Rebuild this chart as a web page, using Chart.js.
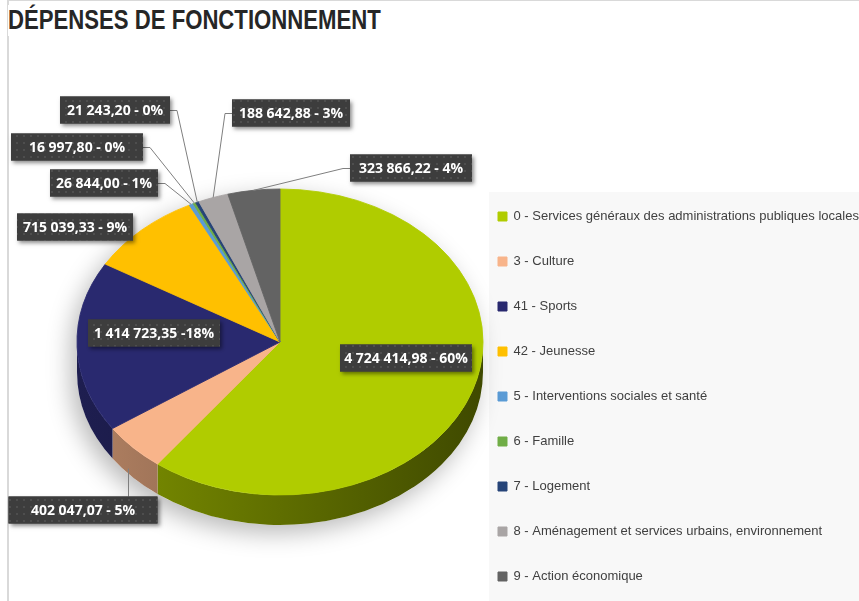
<!DOCTYPE html>
<html lang="fr">
<head>
<meta charset="utf-8">
<title>Dépenses de fonctionnement</title>
<script src="https://cdn.jsdelivr.net/npm/chart.js@4.4.1/dist/chart.umd.min.js"></script>
<style>
    html, body { margin: 0; padding: 0; background: #fff; }
    #wrap { position: relative; width: 859px; height: 601px; overflow: hidden; }
    #frame { position: absolute; left: 7px; top: 0; right: -2px; bottom: -2px; border-left: 2px solid #d9d9d9; border-top: 1px solid #d9d9d9; }
    #title { position: absolute; left: 8px; top: 5px; padding-right: 6px; font: bold 27px/31px "Liberation Sans", Arial, sans-serif; color: #262626; background: #fff; white-space: nowrap; transform: scaleX(0.82); transform-origin: 0 0; }
    #legendBg { position: absolute; left: 489px; top: 192px; width: 370px; height: 409px; background: #f8f8f8; }
    #chart { position: absolute; left: 0; top: 0; }
</style>
</head>
<body>
<div id="wrap">
    <div id="frame"></div>
    <div id="legendBg"></div>
    <div id="title">DÉPENSES DE FONCTIONNEMENT</div>
    <canvas id="chart" width="859" height="601"></canvas>
</div>
<script>
const categories = [
    "0 - Services généraux des administrations publiques locales",
    "3 - Culture",
    "41 - Sports",
    "42 - Jeunesse",
    "5 - Interventions sociales et santé",
    "6 - Famille",
    "7 - Logement",
    "8 - Aménagement et services urbains, environnement",
    "9 - Action économique"
];
const amounts = [4724414.98, 402047.07, 1414723.35, 715039.33, 26844.00, 16997.80, 21243.20, 188642.88, 323866.22];
const percentLabels = ["- 60%", "- 5%", "-18%", "- 9%", "- 1%", "- 0%", "- 0%", "- 3%", "- 4%"];
const sliceColors = ["#b0cc00", "#f8b48a", "#29296f", "#ffc000", "#5b9bd5", "#70ad47", "#264478", "#a9a5a5", "#636363"];

// mise en page des étiquettes (centre, largeur, trait de rappel)
const labelBoxes = [
    { x: 406, y: 358, w: 132, leader: false },
    { x: 83, y: 510, w: 149, leader: true },
    { x: 154, y: 333, w: 132, leader: false },
    { x: 75, y: 227, w: 116, leader: false },
    { x: 104, y: 183, w: 108, leader: true },
    { x: 77, y: 147, w: 132, leader: true },
    { x: 115, y: 110, w: 110, leader: true },
    { x: 291, y: 113, w: 118, leader: true },
    { x: 411, y: 168, w: 122, leader: true }
];
const labelHeight = 27;

const pieCenter = { x: 280, y: 342 };
const tilt = 153 / 203;
const depth = 30;

function frNumber(v) {
    const parts = v.toFixed(2).split(".");
    return parts[0].replace(/\B(?=(\d{3})+(?!\d))/g, " ") + "," + parts[1];
}

function shade(hex, f) {
    const n = parseInt(hex.slice(1), 16);
    const r = Math.round(((n >> 16) & 255) * f);
    const g = Math.round(((n >> 8) & 255) * f);
    const b = Math.round((n & 255) * f);
    return `rgb(${r}, ${g}, ${b})`;
}

function makeDots(ctx) {
    const c = document.createElement("canvas");
    c.width = 7;
    c.height = 7;
    const p = c.getContext("2d");
    p.fillStyle = "#3d3d3d";
    p.fillRect(0, 0, 7, 7);
    p.fillStyle = "#4e4e4e";
    p.fillRect(2, 2, 2, 2);
    return ctx.createPattern(c, "repeat");
}

const pie3d = {
    id: "pie3d",
    beforeDatasetsDraw(chart) {
        const ctx = chart.ctx;
        const arcs = chart.getDatasetMeta(0).data;
        const rx = arcs[0].outerRadius;
        const ry = rx * tilt;
        const cx = pieCenter.x, cy = pieCenter.y;

        // ombre portée
        ctx.save();
        ctx.shadowColor = "rgba(0, 0, 0, 0.28)";
        ctx.shadowBlur = 24;
        ctx.shadowOffsetX = -6;
        ctx.shadowOffsetY = 8;
        ctx.fillStyle = "#fff";
        ctx.beginPath();
        ctx.ellipse(cx, cy, rx, ry, 0, Math.PI, 2 * Math.PI);
        ctx.lineTo(cx + rx, cy + depth);
        ctx.ellipse(cx, cy + depth, rx, ry, 0, 0, Math.PI);
        ctx.closePath();
        ctx.fill();
        ctx.restore();

        // flancs visibles
        arcs.forEach((arc, i) => {
            const a0 = Math.max(arc.startAngle, 0);
            const a1 = Math.min(arc.endAngle, Math.PI);
            if (a1 <= a0) return;
            const grad = ctx.createLinearGradient(cx - rx, 0, cx + rx, 0);
            grad.addColorStop(0, shade(sliceColors[i], 0.72));
            grad.addColorStop(1, shade(sliceColors[i], 0.36));
            ctx.beginPath();
            ctx.ellipse(cx, cy, rx, ry, 0, a0, a1);
            ctx.lineTo(cx + rx * Math.cos(a1), cy + ry * Math.sin(a1) + depth);
            ctx.ellipse(cx, cy + depth, rx, ry, 0, a1, a0, true);
            ctx.closePath();
            ctx.fillStyle = grad;
            ctx.fill();
        });

        // dessus du camembert, écrasé en ellipse
        ctx.save();
        ctx.translate(cx, cy);
        ctx.scale(1, tilt);
        ctx.translate(-arcs[0].x, -arcs[0].y);
    },
    afterDatasetsDraw(chart) {
        chart.ctx.restore();
    },
    afterDraw(chart) {
        const ctx = chart.ctx;
        const arcs = chart.getDatasetMeta(0).data;
        const r = arcs[0].outerRadius;
        const dots = makeDots(ctx);
        ctx.save();
        arcs.forEach((arc, i) => {
            const box = labelBoxes[i];
            const left = box.x - box.w / 2;
            const top = box.y - labelHeight / 2;

            if (box.leader) {
                const mid = (arc.startAngle + arc.endAngle) / 2;
                const ax = pieCenter.x + r * Math.cos(mid);
                let ay = pieCenter.y + r * tilt * Math.sin(mid);
                if (Math.sin(mid) > 0) ay += depth * 0.7;
                ctx.strokeStyle = "#7f7f7f";
                ctx.lineWidth = 1;
                ctx.beginPath();
                if (ax > left && ax < left + box.w) {
                    const edge = ay < top ? top : top + labelHeight;
                    ctx.moveTo(Math.round(ax) - 4.5, edge);
                    ctx.lineTo(Math.round(ax) - 4.5, ay);
                } else {
                    const dir = ax > box.x ? 1 : -1;
                    const sx = dir > 0 ? left + box.w : left;
                    ctx.moveTo(sx, Math.round(box.y) + 0.5);
                    ctx.lineTo(sx + dir * 7, Math.round(box.y) + 0.5);
                    ctx.lineTo(ax, ay);
                }
                ctx.stroke();
            }

            ctx.save();
            ctx.shadowColor = "rgba(0, 0, 0, 0.45)";
            ctx.shadowBlur = 4;
            ctx.shadowOffsetX = 2;
            ctx.shadowOffsetY = 2;
            ctx.fillStyle = "#3d3d3d";
            ctx.fillRect(left, top, box.w, labelHeight);
            ctx.restore();
            ctx.fillStyle = dots;
            ctx.fillRect(left, top, box.w, labelHeight);

            ctx.fillStyle = "#ffffff";
            ctx.font = 'bold 14px "Open Sans", "Liberation Sans", sans-serif';
            ctx.textAlign = "center";
            ctx.textBaseline = "middle";
            ctx.fillText(frNumber(amounts[i]) + " " + percentLabels[i], box.x, box.y + 1);
        });
        ctx.restore();
    }
};

document.addEventListener("DOMContentLoaded", () => {
    const canvas = document.getElementById("chart");
    new Chart(canvas, {
        type: "pie",
        data: {
            labels: categories,
            datasets: [{
                data: amounts,
                backgroundColor: sliceColors,
                borderColor: sliceColors,
                borderWidth: 1,
                radius: 203
            }]
        },
        options: {
            responsive: false,
            animation: false,
            events: [],
            layout: {
                padding: { top: 178, bottom: -14, left: 73, right: 0 }
            },
            plugins: {
                tooltip: { enabled: false },
                legend: {
                    position: "right",
                    align: "start",
                    labels: {
                        boxWidth: 9,
                        boxHeight: 9,
                        padding: 32,
                        color: "#404040",
                        font: { family: '"Liberation Sans", Arial, sans-serif', size: 13 }
                    }
                }
            }
        },
        plugins: [pie3d]
    });
});
</script>
</body>
</html>
